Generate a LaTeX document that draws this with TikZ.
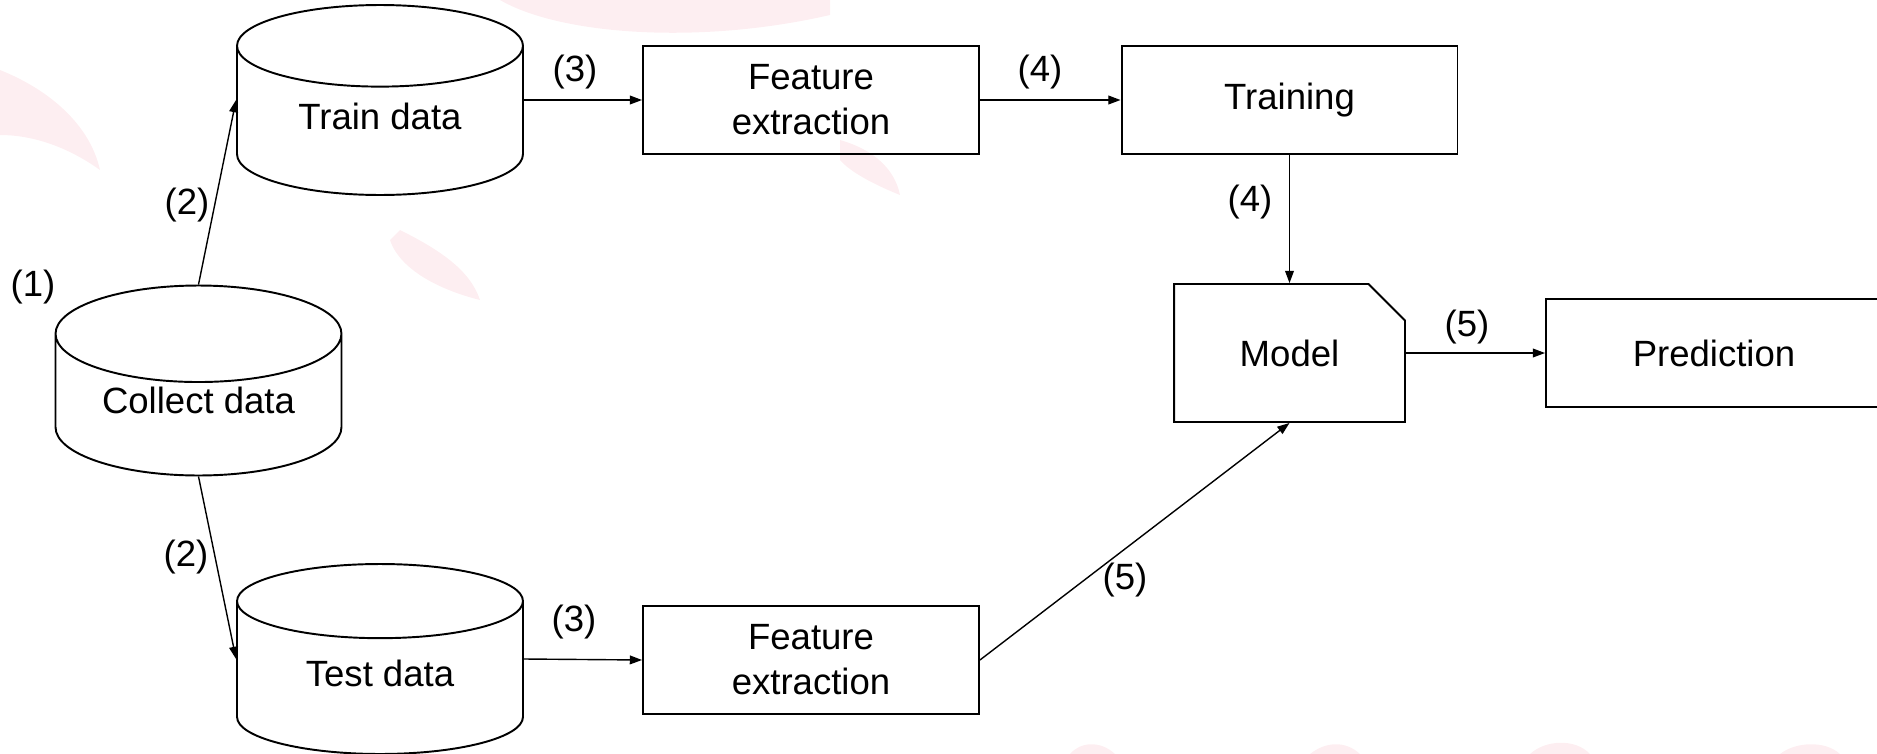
\documentclass[tikz,border=0pt]{standalone}
\usepackage{fontspec}
\setmainfont{Liberation Sans}
\usetikzlibrary{shapes.geometric}
\usetikzlibrary{shapes.misc}
\usetikzlibrary{arrows.meta}
\definecolor{wmark}{RGB}{253,238,241}
\tikzstyle{store}=[draw, cylinder, shape border rotate=90, aspect=0.5, minimum width=5.72cm, minimum height=3.8cm, inner sep=0pt, text depth=5pt, anchor=shape center]
\tikzstyle{block}=[draw, rectangle, minimum width=6.72cm, minimum height=2.16cm, align=center, inner sep=0pt]
\tikzstyle{doc}=[draw, chamfered rectangle, chamfered rectangle corners=north east, chamfered rectangle sep=0.46cm, minimum width=4.62cm, minimum height=2.76cm, inner sep=0pt]
\tikzstyle{tag}=[inner sep=0pt]
\tikzstyle{flow}=[-{Triangle[length=7pt,width=5pt]}, line width=0.8pt]

\begin{document}
\begin{tikzpicture}[x=0.02cm, y=-0.02cm, line width=1.1pt, font=\fontsize{20.8pt}{25.6pt}\selectfont]
        \useasboundingbox (0, 0) rectangle (1877, 754);
        \clip (0, 0) rectangle (1877, 754);
        % faint logo in the background
        \fill[wmark] (0, 70) .. controls (50, 90) and (90, 125) .. (100, 170) .. controls (65, 145) and (30, 135) .. (0, 135) -- cycle;
        \fill[wmark] (500, 0) .. controls (560, 35) and (700, 45) .. (830, 15) -- (830, 0) -- cycle;
        \fill[wmark] (400, 230) .. controls (440, 250) and (470, 270) .. (480, 300) .. controls (440, 290) and (400, 270) .. (390, 240) -- cycle;
        \fill[wmark] (840, 140) .. controls (875, 150) and (895, 170) .. (900, 195) .. controls (875, 185) and (850, 172) .. (840, 160) -- cycle;
        \fill[wmark] (1070, 754) .. controls (1080, 742) and (1100, 740) .. (1115, 754) -- cycle;
        \fill[wmark] (1310, 754) .. controls (1325, 742) and (1345, 740) .. (1360, 754) -- cycle;
        \fill[wmark] (1530, 754) .. controls (1545, 740) and (1575, 738) .. (1590, 754) -- cycle;
        \fill[wmark] (1780, 754) .. controls (1795, 742) and (1825, 740) .. (1840, 754) -- cycle;

        \node[store]  (collect)  at (198.5, 380.5) {Collect data};
        \node[store]  (train)    at (380, 100)     {Train data};
        \node[store]  (test)     at (380, 659)     {Test data};
        \node[block]  (feat1)    at (811, 100)     {Feature\\extraction};
        \node[block]  (feat2)    at (811, 660)     {Feature\\extraction};
        \node[block]  (training) at (1289.5, 100)  {Training};
        \node[doc]    (model)    at (1289.5, 353)  {Model};
        \node[block]  (predict)  at (1714, 353)    {Prediction};

        \node[tag] (t1)  at (33, 287)   {(1)};
        \node[tag] (t2a) at (187, 205)  {(2)};
        \node[tag] (t2b) at (186, 557)  {(2)};
        \node[tag] (t3a) at (575, 72)   {(3)};
        \node[tag] (t3b) at (574, 622)  {(3)};
        \node[tag] (t4a) at (1040, 72)  {(4)};
        \node[tag] (t4b) at (1250, 202) {(4)};
        \node[tag] (t5a) at (1467, 327) {(5)};
        \node[tag] (t5b) at (1125, 580) {(5)};

        \draw[flow] (collect.north) -- (train.shape center -| train.west);
        \draw[flow] (collect.south) -- (test.shape center -| test.west);
        \draw[flow] (train.shape center -| train.east) -- (feat1.west);
        \draw[flow] (test.shape center -| test.east) -- (feat2.west);
        \draw[flow] (feat1.east) -- (training.west);
        \draw[flow] (training.south) -- (model.north);
        \draw[flow] (feat2.east) -- (model.south);
        \draw[flow] (model.east) -- (predict.west);
    \end{tikzpicture}
\end{document}
